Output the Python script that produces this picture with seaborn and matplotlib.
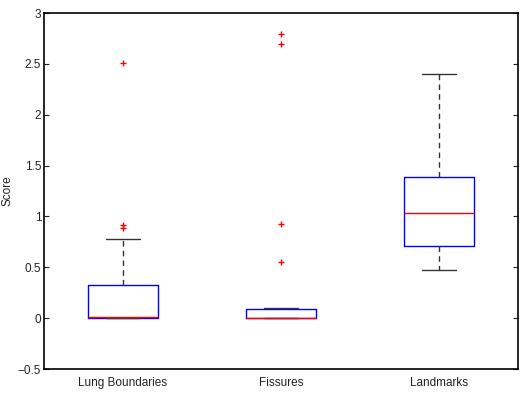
import pandas as pd
import seaborn as sns
import matplotlib.pyplot as plt

# Scores per category.
categories = ["Lung Boundaries", "Fissures", "Landmarks"]

lung_scores = [0, 0, 0, 0, 0, 0, 0.005, 0.01, 0.01,
               0.05, 0.15, 0.25, 0.325, 0.78, 0.885, 0.92, 2.51]
fissure_scores = [0, 0, 0, 0, 0, 0, 0, 0, 0, 0, 0.002,
                  0.01, 0.03, 0.05, 0.07, 0.088, 0.1, 0.55, 0.93, 2.70, 2.79]
landmark_scores = [0.47, 0.55, 0.62, 0.68, 0.71, 0.8, 0.9, 0.97, 1.03,
                   1.1, 1.2, 1.3, 1.39, 1.6, 1.9, 2.1, 2.4]

yticks = [-0.5, 0, 0.5, 1, 1.5, 2, 2.5, 3]
ytick_labels = ["\u22120.5", "0", "0.5", "1", "1.5", "2", "2.5", "3"]

df = pd.DataFrame({
    "group": [categories[0]] * len(lung_scores)
             + [categories[1]] * len(fissure_scores)
             + [categories[2]] * len(landmark_scores),
    "Score": lung_scores + fissure_scores + landmark_scores,
})

sns.set_style("ticks")
plt.rcParams["font.family"] = ["Liberation Sans", "DejaVu Sans"]
plt.rcParams["font.size"] = 8.5

fig = plt.figure(figsize=(5.25, 3.95), dpi=100)
ax = fig.add_axes([0.0838, 0.0658, 0.903, 0.901])

sns.boxplot(data=df, x="group", y="Score", order=categories, ax=ax,
            fill=False, width=0.44, whis=1.5,
            boxprops=dict(color="blue", linewidth=1.0),
            medianprops=dict(color="red", linewidth=1.0),
            whiskerprops=dict(color="#333333", linestyle=(0, (4, 3)), linewidth=1.0),
            capprops=dict(color="#333333", linewidth=1.0),
            flierprops=dict(marker="+", markeredgecolor="red", markersize=5,
                            markeredgewidth=1.0))

ax.set_xlim(-0.5, 2.5)
ax.set_ylim(-0.5, 3)
ax.set_yticks(yticks)
ax.set_yticklabels(ytick_labels)
ax.set_xlabel("")
ax.set_ylabel("Score", fontsize=8.5, color="#222222")
ax.yaxis.set_label_coords(-0.064, 0.5)
ax.tick_params(axis="y", direction="in", right=True, length=3.5, width=0.8,
               labelsize=8.5, colors="#222222", pad=2)
ax.tick_params(axis="x", length=0, labelsize=8.5, pad=6, colors="#222222")
for s in ax.spines.values():
    s.set_visible(True)
    s.set_linewidth(1.2)
    s.set_color("black")

fig.savefig("out.png", dpi=100)
